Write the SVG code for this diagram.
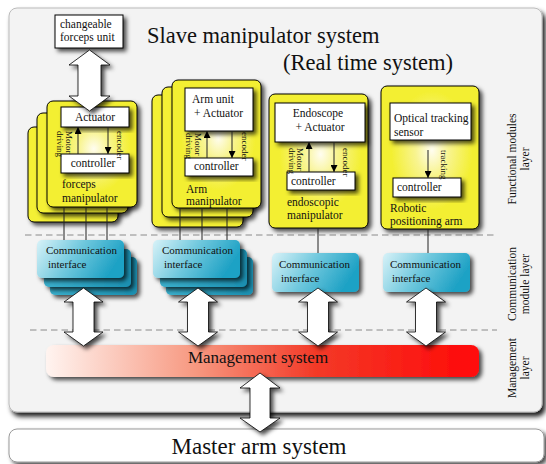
<svg xmlns="http://www.w3.org/2000/svg" width="546" height="464" viewBox="0 0 546 464">
<defs>
<style>
text{font-family:"Liberation Serif","Times New Roman",serif;fill:#111}
.t11{font-size:11.5px}
.t10{font-size:11px}
.rot{font-size:9px}
.lay{font-size:11.5px}
.box{fill:#fff;stroke:#000;stroke-width:1}
.yb{fill:#f4f035;stroke:#000;stroke-width:1}
.yf{fill:url(#yg);stroke:#000;stroke-width:1}
.cf{fill:url(#cg);stroke:none}
.cb{fill:url(#cg2);stroke:none}
.dar{fill:#fff;stroke:#000;stroke-width:0.8;filter:url(#sh)}
.ln{stroke:#222;stroke-width:1;fill:none}
.dash{stroke:#8a8a8a;stroke-width:1;stroke-dasharray:6.5 4;fill:none}
</style>
<filter id="sh" x="-20%" y="-20%" width="150%" height="150%"><feDropShadow dx="3" dy="3" stdDeviation="2" flood-color="#000" flood-opacity="0.7"/></filter>
<filter id="shp" x="-5%" y="-5%" width="115%" height="115%"><feDropShadow dx="3" dy="4" stdDeviation="2.5" flood-color="#000" flood-opacity="0.9"/></filter>
<radialGradient id="yg" cx="0.52" cy="0.45" r="0.42">
<stop offset="0" stop-color="#fffdf0"/>
<stop offset="0.4" stop-color="#f8f490"/>
<stop offset="1" stop-color="#f3ef30"/>
</radialGradient>
<linearGradient id="cg" x1="0" y1="0" x2="1" y2="0.3">
<stop offset="0" stop-color="#d8f2f8"/>
<stop offset="0.5" stop-color="#72c9de"/>
<stop offset="1" stop-color="#1fa2c5"/>
</linearGradient>
<linearGradient id="cg2" x1="0" y1="0" x2="1" y2="0">
<stop offset="0" stop-color="#3aaecb"/>
<stop offset="1" stop-color="#1b8fb0"/>
</linearGradient>
<linearGradient id="rg" x1="0" y1="0" x2="1" y2="0">
<stop offset="0" stop-color="#fff4f0"/>
<stop offset="0.35" stop-color="#f7977f"/>
<stop offset="0.62" stop-color="#f33a28"/>
<stop offset="1" stop-color="#ff0808"/>
</linearGradient>
<marker id="ah" viewBox="0 0 10 10" refX="10" refY="5" markerWidth="7" markerHeight="7" orient="auto" markerUnits="userSpaceOnUse"><path d="M0,0 L10,5 L0,10 Z" fill="#000"/></marker>
</defs>

<g id="panel">
<rect x="9" y="8" width="533" height="404" rx="8" fill="#f3f3f3" stroke="#bbb" stroke-width="1" filter="url(#shp)"/>
<text x="147" y="43" style="font-size:22.5px">Slave manipulator system</text>
<text x="283" y="70" style="font-size:22.5px">(Real time system)</text>
</g>

<g id="layer-lines">
<line class="dash" x1="25" y1="235" x2="494" y2="235"/>
<line class="dash" x1="30" y1="330" x2="497" y2="330"/>
</g>

<g id="layer-labels">
<text class="lay" transform="translate(516,159) rotate(-90)" text-anchor="middle">Functional modules</text>
<text class="lay" transform="translate(529,159) rotate(-90)" text-anchor="middle">layer</text>
<text class="lay" transform="translate(516,284) rotate(-90)" text-anchor="middle">Communication</text>
<text class="lay" transform="translate(529,284) rotate(-90)" text-anchor="middle">module layer</text>
<text class="lay" transform="translate(516,368) rotate(-90)" text-anchor="middle">Management</text>
<text class="lay" transform="translate(529,368) rotate(-90)" text-anchor="middle">layer</text>
</g>

<g id="master">
<rect x="9" y="429" width="535" height="33" rx="8" fill="#fff" stroke="#999" filter="url(#sh)"/>
<text x="259" y="454" text-anchor="middle" style="font-size:23px">Master arm system</text>
</g>

<g id="forceps-unit">
<rect class="box" x="55" y="15" width="68" height="33" filter="url(#sh)"/>
<text class="t11" x="60" y="28">changeable</text>
<text class="t11" x="60" y="41">forceps unit</text>
</g>

<g id="forceps-manipulator">
<rect class="yb" x="28" y="127" width="90" height="95" rx="6" filter="url(#sh)"/>
<rect class="yb" x="37" y="113" width="91" height="100" rx="6" filter="url(#sh)"/>
<rect class="yf" x="47" y="101" width="90" height="106" rx="6" filter="url(#sh)"/>
<rect class="box" x="61" y="107" width="68" height="20" filter="url(#sh)"/>
<text class="t11" x="95" y="121" text-anchor="middle">Actuator</text>
<rect class="box" x="61" y="154" width="68" height="19" filter="url(#sh)"/>
<text class="t11" x="93" y="167" text-anchor="middle">controller</text>
<text class="rot" transform="translate(65.5,131) rotate(90)">Motor</text>
<text class="rot" transform="translate(57,131) rotate(90)">driving</text>
<text class="rot" transform="translate(116.5,131) rotate(90)">encoder</text>
<text class="t11" x="62" y="188">forceps</text>
<text class="t11" x="62" y="202">manipulator</text>
</g>

<g id="arm-manipulator">
<rect class="yb" x="152" y="95" width="91" height="132" rx="6" filter="url(#sh)"/>
<rect class="yb" x="162" y="87" width="91" height="130" rx="6" filter="url(#sh)"/>
<rect class="yf" x="172" y="80" width="89" height="128" rx="6" filter="url(#sh)"/>
<rect class="box" x="185" y="88" width="68" height="43" filter="url(#sh)"/>
<text class="t11" x="192" y="103">Arm unit</text>
<text class="t11" x="194" y="117">+ Actuator</text>
<rect class="box" x="185" y="158" width="68" height="18" filter="url(#sh)"/>
<text class="t11" x="194" y="170">controller</text>
<text class="rot" transform="translate(194.5,133) rotate(90)">Motor</text>
<text class="rot" transform="translate(186,133) rotate(90)">driving</text>
<text class="rot" transform="translate(242,132) rotate(90)">encoder</text>
<text class="t11" x="186" y="193">Arm</text>
<text class="t11" x="186" y="205">manipulator</text>
</g>

<g id="endoscopic-manipulator">
<rect class="yf" x="269" y="94" width="99" height="134" rx="6" filter="url(#sh)"/>
<rect class="box" x="275" y="103" width="90" height="39" filter="url(#sh)"/>
<text class="t11" x="318" y="117" text-anchor="middle">Endoscope</text>
<text class="t11" x="320" y="131" text-anchor="middle">+ Actuator</text>
<rect class="box" x="287" y="172" width="68" height="18" filter="url(#sh)"/>
<text class="t11" x="291" y="185">controller</text>
<text class="rot" transform="translate(297,148) rotate(90)">Motor</text>
<text class="rot" transform="translate(288.5,148) rotate(90)">driving</text>
<text class="rot" transform="translate(343,148) rotate(90)">encoder</text>
<text class="t11" x="287" y="206">endoscopic</text>
<text class="t11" x="287" y="219">manipulator</text>
</g>

<g id="robotic-positioning-arm">
<rect class="yf" x="381" y="86" width="98" height="143" rx="6" filter="url(#sh)"/>
<rect class="box" x="390" y="103" width="81" height="37" filter="url(#sh)"/>
<text class="t11" x="394" y="122">Optical tracking</text>
<text class="t11" x="394" y="136">sensor</text>
<rect class="box" x="393" y="178" width="68" height="19" filter="url(#sh)"/>
<text class="t11" x="397" y="191">controller</text>
<text class="rot" transform="translate(440.5,150) rotate(90)">tracking</text>
<text class="t11" x="390" y="212">Robotic</text>
<text class="t11" x="390" y="225">positioning arm</text>
</g>

<g id="comm-forceps">
<rect class="cb" x="50" y="257" width="87" height="38" rx="5" filter="url(#sh)"/>
<rect class="cb" x="44" y="249" width="87" height="38" rx="5" filter="url(#sh)"/>
<rect class="cf" x="37" y="240" width="87" height="38" rx="5" filter="url(#sh)"/>
<text class="t10" x="46" y="254">Communication</text>
<text class="t10" x="48" y="268">interface</text>
</g>

<g id="comm-arm">
<rect class="cb" x="166" y="257" width="87" height="38" rx="5" filter="url(#sh)"/>
<rect class="cb" x="160" y="249" width="87" height="38" rx="5" filter="url(#sh)"/>
<rect class="cf" x="153" y="240" width="87" height="38" rx="5" filter="url(#sh)"/>
<text class="t10" x="162" y="254">Communication</text>
<text class="t10" x="164" y="268">interface</text>
</g>

<g id="comm-endoscopic">
<rect class="cf" x="272" y="253" width="87" height="39" rx="5" filter="url(#sh)"/>
<text class="t10" x="279" y="268">Communication</text>
<text class="t10" x="281" y="282">interface</text>
</g>

<g id="comm-robotic">
<rect class="cf" x="383" y="253" width="87" height="39" rx="5" filter="url(#sh)"/>
<text class="t10" x="390" y="268">Communication</text>
<text class="t10" x="392" y="282">interface</text>
</g>

<g id="management">
<rect x="46" y="345" width="433" height="32" rx="8" fill="url(#rg)" filter="url(#sh)"/>
<text x="258" y="363" text-anchor="middle" style="font-size:17px">Management system</text>
</g>

<g id="connectors">
<line class="ln" x1="64" y1="207" x2="64" y2="240"/>
<line class="ln" x1="86" y1="207" x2="86" y2="240"/>
<line class="ln" x1="107" y1="207" x2="107" y2="240"/>
<line class="ln" x1="180" y1="208" x2="180" y2="240"/>
<line class="ln" x1="202" y1="208" x2="202" y2="240"/>
<line class="ln" x1="227" y1="208" x2="227" y2="240"/>
<line class="ln" x1="318" y1="228" x2="318" y2="253"/>
<line class="ln" x1="428" y1="229" x2="428" y2="253"/>

<line class="ln" x1="78" y1="154" x2="78" y2="127" marker-end="url(#ah)"/>
<line class="ln" x1="108" y1="127" x2="108" y2="154" marker-end="url(#ah)"/>
<line class="ln" x1="207" y1="158" x2="207" y2="131" marker-end="url(#ah)"/>
<line class="ln" x1="232" y1="131" x2="232" y2="158" marker-end="url(#ah)"/>
<line class="ln" x1="309" y1="172" x2="309" y2="142" marker-end="url(#ah)"/>
<line class="ln" x1="334" y1="142" x2="334" y2="172" marker-end="url(#ah)"/>
<line class="ln" x1="428" y1="150" x2="428" y2="178" marker-end="url(#ah)"/>

<path class="dar" d="M89.5,50 L110,65 L101,65 L101,96 L110,96 L89.5,111 L69,96 L78,96 L78,65 L69,65 Z"/>
<path class="dar" d="M83.5,288 L103,302 L94,302 L94,332 L103,332 L83.5,346 L64,332 L73,332 L73,302 L64,302 Z"/>
<path class="dar" d="M198,288 L217.5,302 L208.5,302 L208.5,332 L217.5,332 L198,346 L178.5,332 L187.5,332 L187.5,302 L178.5,302 Z"/>
<path class="dar" d="M318,288 L337.5,302 L328.5,302 L328.5,332 L337.5,332 L318,346 L298.5,332 L307.5,332 L307.5,302 L298.5,302 Z"/>
<path class="dar" d="M426,288 L445.5,302 L436.5,302 L436.5,332 L445.5,332 L426,346 L406.5,332 L415.5,332 L415.5,302 L406.5,302 Z"/>
<path class="dar" d="M260,373 L280,388 L270,388 L270,418 L280,418 L260,432 L240,418 L250,418 L250,388 L240,388 Z"/>
</g>
</svg>
